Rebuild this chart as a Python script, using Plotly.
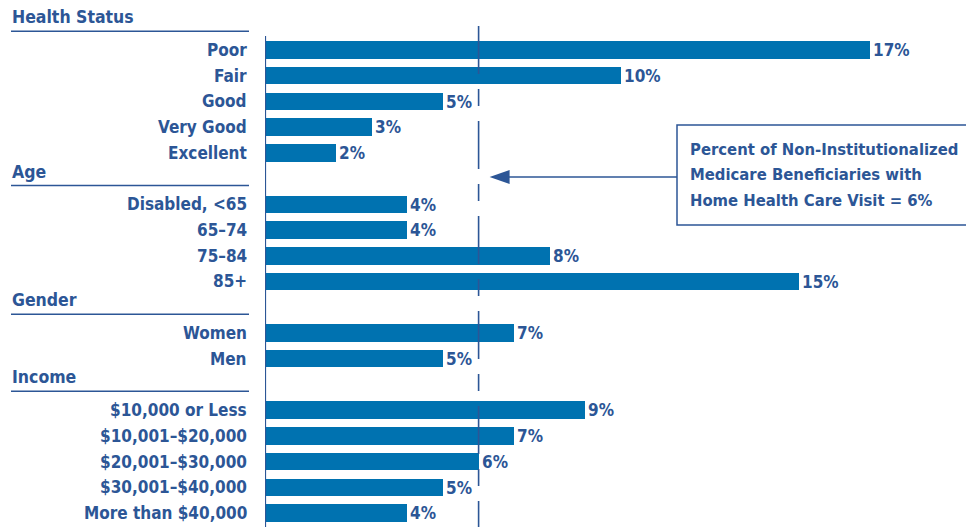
import plotly.graph_objects as go

# ---- data ----
group_titles = ["Health Status", "Age", "Gender", "Income"]

health_labels = ["Poor", "Fair", "Good", "Very Good", "Excellent"]
health_values = [17, 10, 5, 3, 2]

age_labels = ["Disabled, <65", "65–74", "75–84", "85+"]
age_values = [4, 4, 8, 15]

gender_labels = ["Women", "Men"]
gender_values = [7, 5]

income_labels = ["$10,000 or Less", "$10,001–$20,000", "$20,001–$30,000",
                 "$30,001–$40,000", "More than $40,000"]
income_values = [9, 7, 6, 5, 4]

overall_rate = 6
callout_lines = ["Percent of Non-Institutionalized",
                 "Medicare Beneficiaries with",
                 "Home Health Care Visit = 6%"]

# ---- styling / geometry ----
FONT = "DejaVu Sans Condensed, sans-serif"
TEXT_COLOR = "#2c5696"
BAR_COLOR = "#0072b0"
FIG_W, FIG_H = 966, 527
LEFT = 265                 # pixel position of the value axis
PX_PER_PCT = 35.6
ROW_PX = 25.72
FIRST_ROW_PX = 50

plot_w = FIG_W - LEFT
x_max = plot_w / PX_PER_PCT
y_top = -FIRST_ROW_PX / ROW_PX
y_bottom = (FIG_H - FIRST_ROW_PX) / ROW_PX


def px_x(px):
    return (px - LEFT) / plot_w


def px_y(px):
    return 1 - px / FIG_H


def font(size):
    return dict(family=FONT, size=size, color=TEXT_COLOR, weight="bold")


groups = [
    (group_titles[0], health_labels, health_values),
    (group_titles[1], age_labels, age_values),
    (group_titles[2], gender_labels, gender_values),
    (group_titles[3], income_labels, income_values),
]

rows, labels, values, headers = [], [], [], []
r = 0
for title, labs, vals in groups:
    headers.append((title, r))
    for lab, v in zip(labs, vals):
        rows.append(r)
        labels.append(lab)
        values.append(v)
        r += 1
    r += 1  # blank slot for the next header

fig = go.Figure(go.Bar(
    x=values, y=rows, orientation="h",
    width=0.68,
    marker=dict(color=BAR_COLOR, line=dict(width=0)),
    texttemplate="%{x}%",
    textposition="outside",
    constraintext="none",
    cliponaxis=False,
    textfont=font(17),
    hoverinfo="skip",
))

annotations = []
shapes = []

# category labels
for lab, row in zip(labels, rows):
    annotations.append(dict(
        x=0, xref="paper", xshift=-16, xanchor="right",
        y=row, yref="y", yanchor="middle",
        text=lab, showarrow=False, font=font(17)))

# group headers with underline
for title, first in headers:
    annotations.append(dict(
        x=px_x(10), xref="paper", xanchor="left",
        y=first - 1.27, yref="y", yanchor="middle",
        text=title, showarrow=False, font=font(17.5)))
    shapes.append(dict(
        type="line", xref="paper", yref="y",
        x0=px_x(11), x1=px_x(249), y0=first - 0.73, y1=first - 0.73,
        line=dict(color=TEXT_COLOR, width=1.5)))

# value axis line
shapes.append(dict(type="line", xref="x", yref="y",
                   x0=0, x1=0, y0=-0.54, y1=y_bottom,
                   line=dict(color=TEXT_COLOR, width=2.2)))

# overall-rate reference line
shapes.append(dict(type="line", xref="x", yref="y",
                   x0=overall_rate, x1=overall_rate, y0=-0.93, y1=y_bottom,
                   line=dict(color=TEXT_COLOR, width=1.6,
                             dash="48px,15px,17px,15px")))

# callout box
box_left, box_top, box_bottom = 677, 125, 225
shapes.append(dict(type="rect", xref="paper", yref="paper",
                   x0=px_x(box_left), x1=px_x(FIG_W + 20),
                   y0=px_y(box_bottom), y1=px_y(box_top),
                   line=dict(color=TEXT_COLOR, width=1.5),
                   fillcolor="white", layer="above"))
for i, line in enumerate(callout_lines):
    annotations.append(dict(
        x=px_x(box_left + 11), xref="paper", xanchor="left",
        y=px_y(149 + 25.5 * i), yref="paper", yanchor="middle",
        text=line, align="left", showarrow=False, font=font(16.5)))

# arrow from callout box to the reference line
arrow_y = 177
tip_px = LEFT + overall_rate * PX_PER_PCT + 11
head_len, head_half = 20, 7
shapes.append(dict(type="line", xref="paper", yref="paper",
                   x0=px_x(tip_px + head_len - 1), x1=px_x(box_left),
                   y0=px_y(arrow_y), y1=px_y(arrow_y),
                   line=dict(color=TEXT_COLOR, width=1.6)))
shapes.append(dict(
    type="path", xref="paper", yref="paper",
    path="M %f,%f L %f,%f L %f,%f Z" % (
        px_x(tip_px), px_y(arrow_y),
        px_x(tip_px + head_len), px_y(arrow_y - head_half),
        px_x(tip_px + head_len), px_y(arrow_y + head_half)),
    fillcolor=TEXT_COLOR, line=dict(width=0)))

fig.update_layout(
    width=FIG_W, height=FIG_H,
    margin=dict(l=LEFT, r=0, t=0, b=0),
    paper_bgcolor="white", plot_bgcolor="white",
    showlegend=False,
    xaxis=dict(range=[0, x_max], visible=False, fixedrange=True),
    yaxis=dict(range=[y_bottom, y_top], visible=False, fixedrange=True),
    annotations=annotations,
    shapes=shapes,
    bargap=0,
)

fig.write_html("out.html", config={"displayModeBar": False})
